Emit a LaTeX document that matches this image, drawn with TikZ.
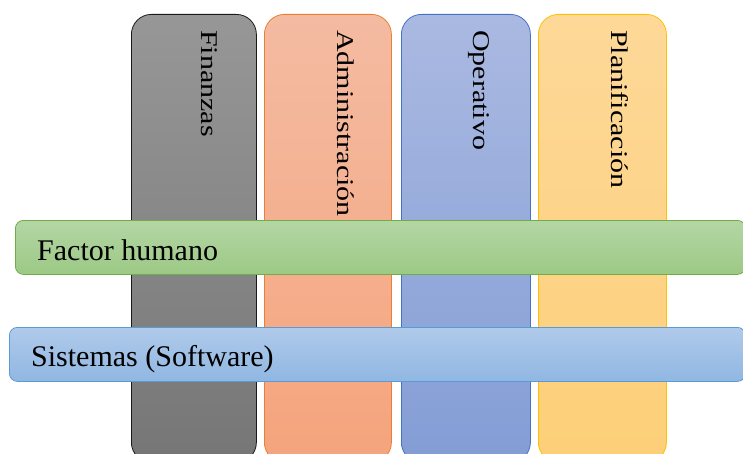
\documentclass[tikz,border=0pt]{standalone}
\usepackage{fontspec}
\usepackage{graphicx}
\setmainfont{Liberation Serif}
\definecolor{finT}{HTML}{979797}
\definecolor{finBo}{HTML}{767676}
\definecolor{finD}{HTML}{1A1A1A}
\definecolor{admT}{HTML}{F4BBA2}
\definecolor{admBo}{HTML}{F5A47C}
\definecolor{admD}{HTML}{ED7D31}
\definecolor{opT}{HTML}{AAB9E1}
\definecolor{opBo}{HTML}{839DD5}
\definecolor{opD}{HTML}{4472C4}
\definecolor{plT}{HTML}{FDD898}
\definecolor{plBo}{HTML}{FDCF78}
\definecolor{plD}{HTML}{FFC000}
\definecolor{grT}{HTML}{B4D6A5}
\definecolor{grBo}{HTML}{9CC985}
\definecolor{grD}{HTML}{70AD47}
\definecolor{blT}{HTML}{B0CAEA}
\definecolor{blBo}{HTML}{90B7E2}
\definecolor{blD}{HTML}{5B9BD5}
\tikzset{
  vbar/.style={draw, line width=0.8pt, rounded corners=20pt, anchor=north west,
    inner sep=0pt, minimum height=448pt},
  hbar/.style={draw, line width=0.8pt, rounded corners=8pt, anchor=north west,
    inner sep=0pt, minimum height=54pt},
  vlabel/.style={rotate=-90, anchor=west, inner sep=0pt,
    font=\fontsize{30}{30}\selectfont},
  hlabel/.style={anchor=base west, inner sep=0pt,
    font=\fontsize{30}{30}\selectfont}
}
\begin{document}
\begin{tikzpicture}[x=1pt,y=-1pt]
\useasboundingbox (0,0) rectangle (743,454);
\clip (0,0) rectangle (743,454);
\node[vbar, minimum width=125pt, draw=finD, top color=finT, bottom color=finBo] (fin) at (131,14) {};
\node[vbar, minimum width=127pt, draw=admD, top color=admT, bottom color=admBo] (adm) at (264,14) {};
\node[vbar, minimum width=129pt, draw=opD, top color=opT, bottom color=opBo] (op) at (401,14) {};
\node[vbar, minimum width=128pt, draw=plD, top color=plT, bottom color=plBo] (pl) at (538,14) {};
\node[vlabel] (finL) at (209,30) {\scalebox{1}[0.8]{Finanzas}};
\node[vlabel] (admL) at (346,30) {\scalebox{1}[0.8]{Administración}};
\node[vlabel] (opL) at (479,30) {\scalebox{1}[0.8]{Operativo}};
\node[vlabel] (plL) at (620,30) {\scalebox{1}[0.8]{Planificación}};
\node[hbar, minimum width=730pt, draw=grD, top color=grT, bottom color=grBo] (fh) at (15,220) {};
\node[hbar, minimum width=736pt, draw=blD, top color=blT, bottom color=blBo] (sw) at (9,327) {};
\node[hlabel] (fhL) at (37,260) {Factor humano};
\node[hlabel] (swL) at (31,366) {Sistemas (Software)};
\end{tikzpicture}
\end{document}
